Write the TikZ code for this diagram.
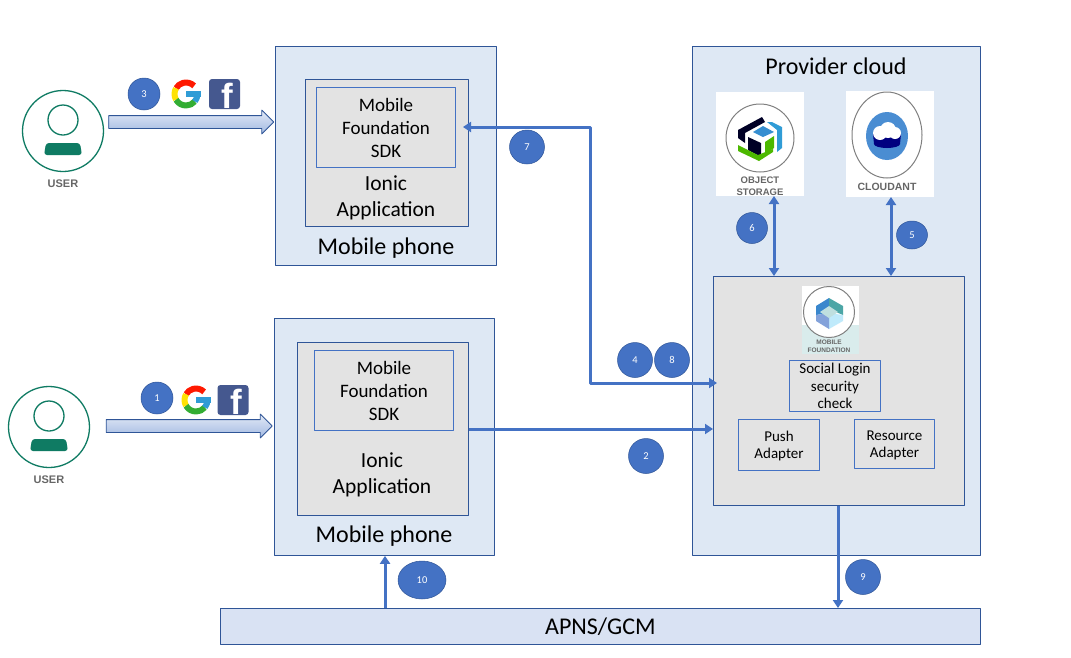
\documentclass[tikz,border=0pt]{standalone}
\usepackage{fontspec}
\setmainfont{Carlito}
\setsansfont{Liberation Sans}
\usetikzlibrary{arrows.meta,shapes.arrows,shapes.geometric}

\definecolor{panelblue}{HTML}{DEE8F4}
\definecolor{panelgrey}{HTML}{E3E3E3}
\definecolor{edgeblue}{HTML}{2F5597}
\definecolor{linkblue}{HTML}{4472C4}
\definecolor{usergreen}{HTML}{0F7B63}
\definecolor{fbblue}{HTML}{45588F}
\definecolor{apnsblue}{HTML}{D9E2F3}

\tikzset{
  panel/.style={draw=edgeblue,fill=panelblue,line width=0.8pt,anchor=north west,inner sep=0pt},
  greybox/.style={draw=edgeblue,fill=panelgrey,line width=0.8pt,anchor=north west,inner sep=0pt},
  subbox/.style={draw=linkblue,line width=1pt,anchor=north west,inner sep=0pt,align=center,font=\fontsize{15}{17.5}\selectfont},
  sdkbox/.style={subbox,font=\fontsize{19}{23}\selectfont},
  label/.style={font=\fontsize{21.5}{26}\selectfont,align=center,inner sep=0pt},
  badge/.style={ellipse,draw=edgeblue,line width=0.5pt,fill=linkblue,text=white,inner sep=0pt,font=\fontsize{10.5}{12}\selectfont},
  link/.style={draw=linkblue,line width=3pt,>={Triangle[length=8pt,width=10pt]}},
  blockarrow/.style={single arrow,draw=edgeblue,line width=0.8pt,top color=white!85!linkblue,bottom color=white!50!linkblue,
    single arrow head extend=5.5pt,single arrow head indent=0pt,inner xsep=0pt,inner ysep=6pt},
  usertext/.style={text=black!60,inner sep=0pt,font=\fontsize{11}{12}\selectfont\sffamily\bfseries},
  icontext/.style={text=black!60,inner sep=0pt,font=\fontsize{9.5}{10}\selectfont\sffamily\bfseries},
  usericon/.pic={
    \node[circle,draw=usergreen,line width=1.3pt,fill=white,minimum size=81pt,inner sep=0pt] (-ring) at (0,0) {};
    \draw[usergreen,line width=1.3pt] (0,-11) circle (15pt);
    \fill[usergreen,rounded corners=3pt] (-19,24) -- (-17,12) -- (17,12) -- (19,24) -- cycle;
    \node[usertext] (-name) at (0,53) {USER};
  },
  gicon/.pic={
    \draw[line width=6pt,red!80!orange] (45:11.5pt) arc[start angle=45,end angle=150,radius=11.5pt];
    \draw[line width=6pt,yellow!85!orange] (150:11.5pt) arc[start angle=150,end angle=210,radius=11.5pt];
    \draw[line width=6pt,green!60!black!80!white] (210:11.5pt) arc[start angle=210,end angle=320,radius=11.5pt];
    \draw[line width=6pt,linkblue!70!cyan] (320:11.5pt) arc[start angle=320,end angle=360,radius=11.5pt];
    \fill[linkblue!70!cyan] (0,-3) rectangle (14.5,3);
  },
  ficon/.pic={
    \fill[fbblue,rounded corners=3pt] (-15.5,-15) rectangle (15.5,15);
    \node[white,inner sep=0pt,font=\fontsize{35}{35}\selectfont\sffamily\bfseries] (-f) at (3,2) {f};
  },
}

\begin{document}
\begin{tikzpicture}[x=1pt,y=-1pt,line join=round]
  \useasboundingbox (0,0) rectangle (1071,657);

  % phones
  \node[panel,minimum width=221,minimum height=219] (phonetop) at (275,46) {};
  \node[greybox,minimum width=163,minimum height=147] (apptop) at (305,79) {};
  \node[sdkbox,minimum width=139,minimum height=80] (sdktop) at (316,87) {Mobile\\Foundation\\SDK};
  \node[label] (iontop) at (386,198) {Ionic\\Application};
  \node[label,font=\fontsize{24}{28}\selectfont] (nametop) at (386,248) {Mobile phone};

  \node[panel,minimum width=220,minimum height=237] (phonelow) at (274,318) {};
  \node[greybox,minimum width=171,minimum height=173] (applow) at (297,342) {};
  \node[sdkbox,minimum width=139,minimum height=80] (sdklow) at (314,350) {Mobile\\Foundation\\SDK};
  \node[label] (ionlow) at (382,475) {Ionic\\Application};
  \node[label,font=\fontsize{24}{28}\selectfont] (namelow) at (384,536) {Mobile phone};

  % provider side
  \node[panel,minimum width=288,minimum height=509] (cloud) at (692,46) {};
  \node[inner sep=0pt,font=\fontsize{24}{28}\selectfont] (cloudname) at (836,66) {Provider cloud};
  \node[fill=white,anchor=north west,inner sep=0pt,minimum width=88,minimum height=104] (objstore) at (716,92) {};
  \node[fill=white,anchor=north west,inner sep=0pt,minimum width=88,minimum height=106] (cloudant) at (846,91) {};
  \node[greybox,minimum width=251,minimum height=229] (mfbox) at (713,276) {};
  \node[subbox,minimum width=91,minimum height=51] (social) at (789,360) {Social Login\\security\\check};
  \node[subbox,minimum width=81,minimum height=51,text depth=-1pt] (push) at (738,419) {Push\\Adapter};
  \node[subbox,minimum width=80,minimum height=49,text depth=-1pt] (resource) at (854,419) {Resource\\Adapter};
  \node[draw=edgeblue,fill=apnsblue,line width=0.8pt,anchor=north west,inner sep=0pt,minimum width=760,minimum height=36,font=\fontsize{24}{28}\selectfont] (apns) at (220,608) {APNS/GCM};

  % object storage logo
  \draw[black!50,line width=1pt] (760,138) circle (34pt);
  \fill[black!85!blue] (738,130) -- (762,117) -- (765,122) -- (745,133) -- (745,143) -- (738,138) -- cycle;
  \fill[linkblue!80!cyan] (763,126) -- (774,132) -- (763,137) -- (753,132) -- cycle;
  \fill[black!85!blue] (748,137) -- (761,143) -- (761,157) -- (748,150) -- cycle;
  \fill[green!60!black!70!yellow] (765,142) -- (774,136) -- (774,148) -- (765,154) -- cycle;
  \fill[green!60!black!70!yellow] (738,145) -- (758,155) -- (773,149) -- (773,152) -- (759,161) -- (738,151) -- cycle;
  \fill[linkblue!70!cyan] (767,122) -- (772,122) -- (782,127) -- (782,148) -- (777,152) -- (777,130) -- cycle;
  \node[icontext,align=center,font=\fontsize{9.5}{11.5}\selectfont\sffamily\bfseries] (objname) at (760,186) {OBJECT\\STORAGE};

  % cloudant logo
  \draw[black!50,line width=1pt] (887,135) ellipse (35pt and 43pt);
  \fill[cyan!55!blue!75] (887,136) ellipse (21pt and 24pt);
  \fill[blue!50!black] (873,134) -- (901,134) -- (900,144) arc[start angle=0,end angle=-180,x radius=13pt,y radius=4pt] -- cycle;
  \fill[white] (880,133) circle (7pt) (888,130) circle (8pt) (895,133) circle (6pt);
  \node[icontext,font=\fontsize{10.5}{12}\selectfont\sffamily\bfseries] (cloudantname) at (887,187) {CLOUDANT};

  % mobile foundation logo
  \fill[white] (802,286) rectangle (859,354);
  \fill[teal!15!white] (802,325) rectangle (859,354);
  \draw[black!50,line width=1pt,fill=white] (829,312) circle (25.5pt);
  \fill[linkblue!85!cyan] (829,298) -- (816,306) -- (816,315) -- (829,313) -- cycle;
  \fill[teal!70!white] (829,298) -- (843,306) -- (843,315) -- (829,309) -- cycle;
  \fill[cyan!25!white] (829,329) -- (843,321) -- (843,315) -- (829,313) -- cycle;
  \fill[cyan!45!blue!50] (829,329) -- (816,321) -- (816,315) -- (829,313) -- cycle;
  \fill[teal!25!white] (829,306) -- (838,312) -- (829,318) -- (820,312) -- cycle;
  \node[icontext,font=\fontsize{6.5}{8}\selectfont\sffamily\bfseries,align=center] (mfname) at (829,346) {MOBILE\\FOUNDATION};

  % users and sign-in
  \pic (usertop) at (63,131) {usericon};
  \pic (userlow) at (49,427) {usericon};
  \node[blockarrow,minimum height=165] (signtop) at (188,122) {};
  \node[blockarrow,minimum height=166] (signlow) at (186,426) {};
  \pic at (186,94) {gicon};
  \pic at (224.5,94) {ficon};
  \pic at (196,400) {gicon};
  \pic at (233,400) {ficon};

  % connectors
  \coordinate (objfoot) at (774,196);
  \coordinate (cloudfoot) at (891,197);
  \coordinate (sdkin) at (463,127);
  \coordinate (mfin) at (717,383);
  \coordinate (bend) at (590,127);
  \coordinate (appout) at (469,429);
  \coordinate (mfout) at (838,506);
  \coordinate (apnsout) at (385,608);
  \draw[link,<->] (sdkin) -- (bend) -- (bend |- mfin) -- (mfin);
  \draw[link,->] (appout) -- (appout -| mfbox.west);
  \draw[link,<->] (objfoot) -- (objfoot |- mfbox.north);
  \draw[link,<->] (cloudfoot) -- (cloudfoot |- mfbox.north);
  \draw[link,->] (mfout) -- (mfout |- apns.north);
  \draw[link,->] (apnsout) -- (apnsout |- phonelow.south);

  % numbers
  \node[badge,minimum width=32,minimum height=32] (n3) at (144,94) {3};
  \node[badge,minimum width=32,minimum height=32] (n1) at (157,398) {1};
  \node[badge,minimum width=35,minimum height=34] (n7) at (527,147) {7};
  \node[badge,minimum width=31,minimum height=31] (n6) at (752,228) {6};
  \node[badge,minimum width=31,minimum height=28] (n5) at (912,235) {5};
  \node[badge,minimum width=35,minimum height=35] (n4) at (635,360) {4};
  \node[badge,minimum width=35,minimum height=35] (n8) at (672,360) {8};
  \node[badge,minimum width=35,minimum height=35] (n2) at (646,456) {2};
  \node[badge,minimum width=35,minimum height=35] (n9) at (863,577) {9};
  \node[badge,minimum width=48,minimum height=38] (n10) at (422,580) {10};
\end{tikzpicture}
\end{document}
